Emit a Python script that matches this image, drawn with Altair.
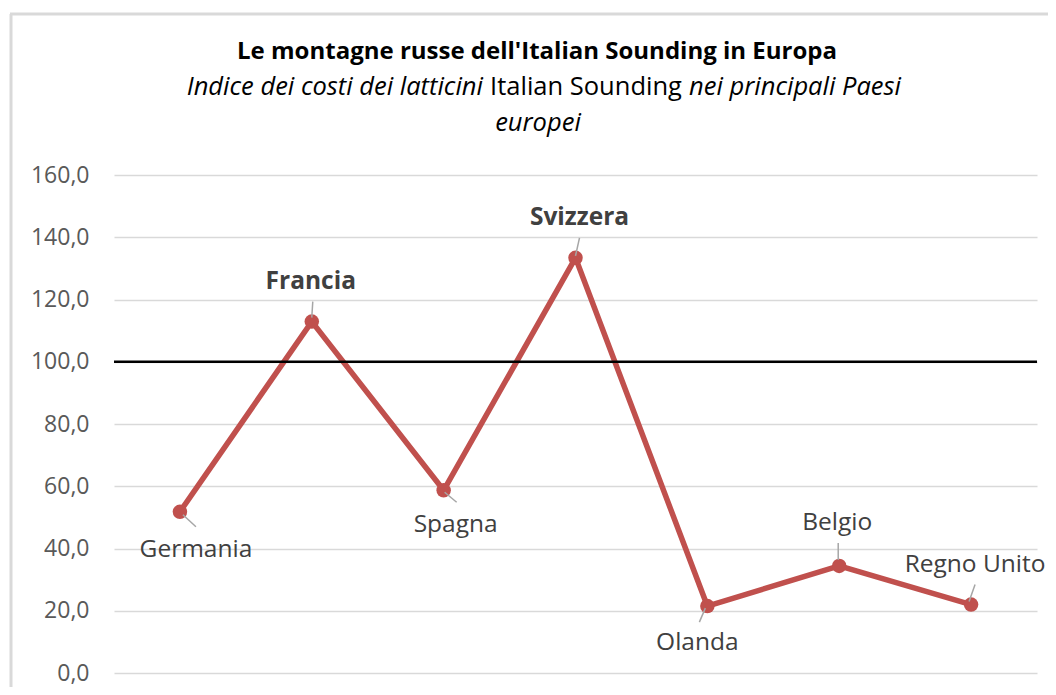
import altair as alt
import pandas as pd

# ---- data ----
countries = ["Germania", "Francia", "Spagna", "Svizzera", "Olanda", "Belgio", "Regno Unito"]
values = [51.8, 112.9, 58.7, 133.4, 21.5, 34.4, 22.0]
y_ticks = [0, 20, 40, 60, 80, 100, 120, 140, 160]
reference_level = 100

title_line1 = "Le montagne russe dell'Italian Sounding in Europa"
title_line2_a = "Indice dei costi dei latticini"
title_line2_b = "Italian Sounding"
title_line2_c = "nei principali Paesi"
title_line3 = "europei"

# label styling (offsets in pixels relative to the point)
bold_labels = ["Francia", "Svizzera"]
label_offsets = {
    "Germania": (16, 38), "Francia": (-1, -40), "Spagna": (12, 35),
    "Svizzera": (4, -40), "Olanda": (-10, 37), "Belgio": (-2, -43),
    "Regno Unito": (4, -40),
}
leader_paths = {
    "Germania": "M3,3L16,15", "Francia": "M0,-4L1,-20", "Spagna": "M1,2L13,12",
    "Svizzera": "M0,-2L4,-20", "Olanda": "M-2,2L-8,16", "Belgio": "M-1,-6L-1,-23",
    "Regno Unito": "M-2,-3L4,-20",
}

df = pd.DataFrame({"Paese": countries, "Indice": values})

FONT = "Open Sans"
RED = "#C0504D"
W, H = 923, 498

x_enc = alt.X("Paese:N", sort=countries, axis=None,
              scale=alt.Scale(type="point", padding=0.5))
y_enc = alt.Y("Indice:Q",
              scale=alt.Scale(domain=[0, 160], nice=False, zero=True),
              axis=alt.Axis(values=y_ticks, title=None, domain=False, ticks=False,
                            labelExpr="replace(format(datum.value, '.1f'), '.', ',')",
                            labelFont=FONT, labelFontSize=23, labelColor="#595959",
                            labelPadding=25, gridColor="#d9d9d9", gridWidth=1.5))

base = alt.Chart(df)

line = base.mark_line(color=RED, strokeWidth=5.5).encode(x=x_enc, y=y_enc)
pts = base.mark_point(filled=True, color=RED, size=210, opacity=1).encode(x=x_enc, y=y_enc)
ref = alt.Chart(pd.DataFrame({"v": [reference_level]})).mark_rule(
    color="black", strokeWidth=2.5).encode(y=alt.Y("v:Q"))

layers = [line, ref, pts]

for c in countries:
    dx, dy = label_offsets[c]
    sub = base.transform_filter(alt.datum.Paese == c)
    layers.append(sub.mark_point(shape=leader_paths[c], size=4, filled=False,
                                 stroke="#a6a6a6", strokeWidth=1.5, opacity=1)
                  .encode(x=x_enc, y=y_enc))
    layers.append(sub.mark_text(dx=dx, dy=dy, font=FONT, fontSize=24.5,
                                fontWeight="bold" if c in bold_labels else "normal",
                                color="#404040", align="center", baseline="middle")
                  .encode(x=x_enc, y=y_enc, text="Paese:N"))

# title (mixed styles)
def txt(s, x, y, size, align="center", weight="normal", style="normal"):
    return alt.Chart(pd.DataFrame({"t": [s]})).mark_text(
        font=FONT, fontSize=size, fontWeight=weight, fontStyle=style, color="black",
        align=align, baseline="alphabetic").encode(
        x=alt.value(x), y=alt.value(y), text="t:N")

layers += [
    txt(title_line1, 423, -116, 24, weight="bold"),
    txt(title_line2_a, 369, -80, 25.5, align="right", style="italic"),
    txt(title_line2_b, 472, -80, 25.5),
    txt(title_line2_c, 575, -80, 25.5, align="left", style="italic"),
    txt(title_line3, 424, -44, 25.5, style="italic"),
]

# chart-area frame (Excel style)
frame_left = alt.Chart(pd.DataFrame({"a": [0]})).mark_rule(
    color="#d9d9d9", strokeWidth=3).encode(x=alt.value(-103), y=alt.value(-161), y2=alt.value(600))
frame_top = alt.Chart(pd.DataFrame({"a": [0]})).mark_rule(
    color="#d9d9d9", strokeWidth=3).encode(x=alt.value(-104), x2=alt.value(1000), y=alt.value(-161))
layers = [frame_left, frame_top] + layers

chart = alt.layer(*layers).properties(
    width=W, height=H,
    autosize=alt.AutoSizeParams(type="none"),
    padding={"left": 106, "top": 167, "right": 11, "bottom": 14},
).configure_view(stroke=None)

chart.save("out.html", embed_options={"renderer": "svg", "actions": False})
